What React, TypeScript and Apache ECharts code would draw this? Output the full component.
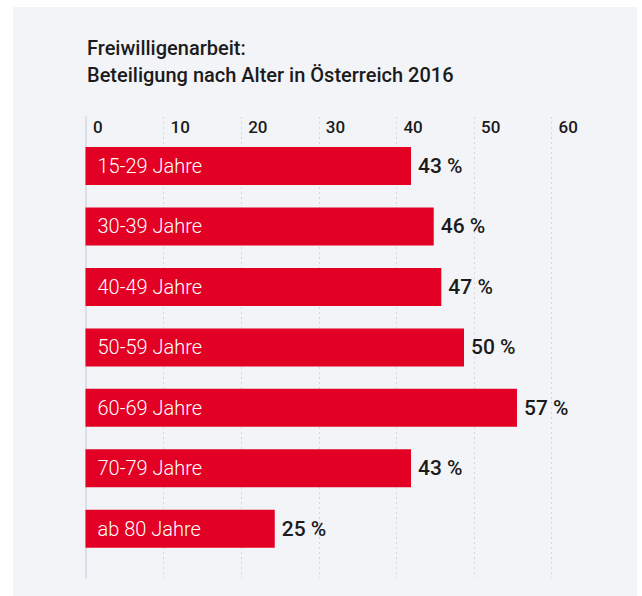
import React, { useEffect, useRef } from "react";
import * as echarts from "echarts";

const titleLines = ["Freiwilligenarbeit:", "Beteiligung nach Alter in Österreich 2016"];
const categories = [
  "15-29 Jahre",
  "30-39 Jahre",
  "40-49 Jahre",
  "50-59 Jahre",
  "60-69 Jahre",
  "70-79 Jahre",
  "ab 80 Jahre",
];
const values = [43, 46, 47, 50, 57, 43, 25];
const axisMin = 0;
const axisMax = 60;
const axisInterval = 10;

const FONT = "Roboto, 'Noto Sans', sans-serif";

export default function App() {
  const ref = useRef<HTMLDivElement>(null);

  useEffect(() => {
    if (!ref.current) return;
    const chart = echarts.init(ref.current, undefined, { renderer: "svg" });
    chart.setOption({
      animation: false,
      backgroundColor: "#ffffff",
      textStyle: { fontFamily: FONT },
      graphic: [
        {
          type: "rect",
          z: -10,
          silent: true,
          shape: { x: 13, y: 7, width: 624, height: 589 },
          style: { fill: "#f3f4f8" },
        },
      ],
      title: {
        text: titleLines.join("\n"),
        left: 87,
        top: 34,
        padding: 0,
        textStyle: {
          fontFamily: FONT,
          fontSize: 20,
          fontWeight: 500,
          lineHeight: 27.5,
          color: "#1b1b1b",
        },
      },
      grid: [
        { left: 86, top: 117, width: 465.6, bottom: 18 },
        { left: 85.5, top: 135.75, width: 454.2, bottom: 37 },
      ],
      xAxis: [
        {
          gridIndex: 0,
          type: "value",
          position: "top",
          min: axisMin,
          max: axisMax,
          interval: axisInterval,
          axisLine: { show: false },
          axisTick: { show: false },
          splitLine: {
            show: true,
            lineStyle: { color: "#d3d6de", type: [2, 3], width: 1 },
          },
          axisLabel: {
            inside: true,
            margin: 10,
            align: "left",
            verticalAlign: "middle",
            padding: [0, 0, 0, 7],
            fontFamily: FONT,
            fontSize: 17,
            fontWeight: 500,
            color: "#1b1b1b",
          },
        },
        {
          gridIndex: 1,
          type: "value",
          min: axisMin,
          max: axisMax,
          show: false,
        },
      ],
      yAxis: [
        {
          gridIndex: 0,
          type: "value",
          min: 0,
          max: 1,
          axisLine: { show: true, lineStyle: { color: "#dcdfe8", width: 2 } },
          axisTick: { show: false },
          axisLabel: { show: false },
          splitLine: { show: false },
        },
        {
          gridIndex: 1,
          type: "category",
          inverse: true,
          data: categories,
          z: 10,
          axisLine: { show: false },
          axisTick: { show: false },
          splitLine: { show: false },
          axisLabel: {
            inside: true,
            margin: 12,
            align: "left",
            fontFamily: FONT,
            fontSize: 20,
            fontWeight: 300,
            color: "#ffffff",
          },
        },
      ],
      series: [
        {
          type: "bar",
          xAxisIndex: 1,
          yAxisIndex: 1,
          data: values,
          barWidth: 38,
          itemStyle: { color: "#e20024" },
          label: {
            show: true,
            position: "right",
            distance: 7,
            formatter: "{c} %",
            fontFamily: FONT,
            fontSize: 21,
            fontWeight: 500,
            color: "#1b1b1b",
          },
        },
      ],
    });
    return () => chart.dispose();
  }, []);

  return (
    <div
      ref={ref}
      style={{ position: "fixed", left: 0, top: 0, width: 642, height: 596 }}
    />
  );
}
